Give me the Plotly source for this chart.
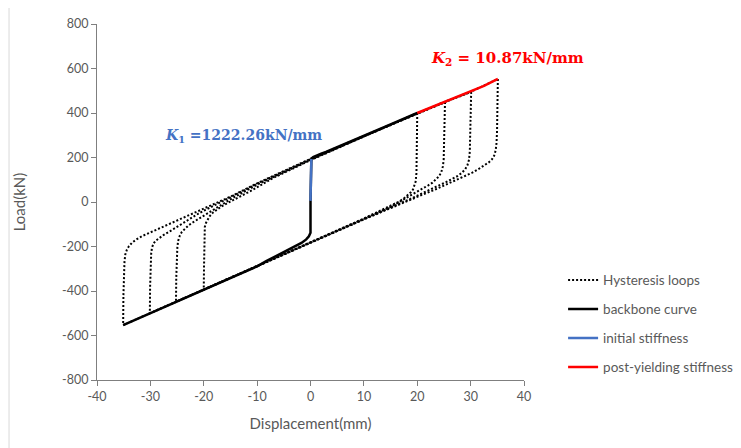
import plotly.graph_objects as go

# ---------------- data ----------------
# Hysteresis loop, amplitude 35 mm
loop35_x = [35.1, 35.05, 34.95, 34.85, 34.7, 34.4, 34.0, 33.4, 32.6, 31.6, 30.3, 28.8, 27.0, 25.0, 23.0, 21.0, 19.0, 15.0, 10.0, 0.0, -10.0, -20.0, -25.0, -30.0, -35.1,
            -35.05, -34.95, -34.85, -34.7, -34.4, -34.0, -33.4, -32.6, -31.6, -30.3, -28.8, -27.0, -25.0, -23.0, -21.0, -19.0, -15.0, -10.0, 0.0, 10.0, 20.0, 25.0, 30.0, 35.1]
loop35_y = [553, 420, 320, 265, 232, 208, 192, 178, 165, 150, 132, 115, 96, 74, 52, 33, 13, -27, -78, -183, -289, -395, -448, -500, -553,
            -420, -320, -268, -236, -214, -198, -182, -168, -154, -140, -124, -104, -83, -62, -41, -20, 24, 84, 194, 297, 400, 449, 495, 553]

# Hysteresis loop, amplitude 30 mm
loop30_x = [30.1, 30.05, 29.95, 29.85, 29.7, 29.4, 29.0, 28.4, 27.5, 26.5, 25.3, 24.0, 22.5, 21.0, 19.0, 15.0, 10.0, 0.0, -10.0, -20.0, -25.0, -30.1,
            -30.05, -29.95, -29.85, -29.7, -29.4, -29.0, -28.4, -27.5, -26.5, -25.3, -24.0, -22.5, -21.0, -19.0, -15.0, -10.0, 0.0, 10.0, 20.0, 25.0, 30.1]
loop30_y = [495, 380, 280, 228, 190, 165, 148, 132, 116, 102, 88, 74, 56, 38, 17, -25, -77, -183, -289, -395, -448, -500,
            -380, -285, -232, -205, -186, -174, -162, -148, -134, -116, -97, -75, -52, -27, 20, 82, 192, 296, 398, 447, 495]

# Hysteresis loop, amplitude 25 mm
loop25_x = [25.2, 25.15, 25.05, 24.95, 24.8, 24.5, 24.1, 23.5, 22.8, 22.0, 21.0, 20.0, 19.0, 17.5, 15.0, 10.0, 0.0, -10.0, -20.0, -25.2,
            -25.15, -25.05, -24.95, -24.8, -24.5, -24.1, -23.5, -22.8, -22.0, -21.0, -20.0, -19.0, -17.5, -15.0, -10.0, 0.0, 10.0, 20.0, 25.2]
loop25_y = [449, 340, 240, 190, 160, 134, 116, 100, 86, 74, 60, 46, 32, 12, -22, -76, -182, -288, -394, -448,
            -340, -250, -205, -175, -152, -134, -118, -104, -91, -76, -62, -46, -24, 12, 78, 190, 295, 398, 449]

# Hysteresis loop, amplitude 20 mm
loop20_x = [20.0, 19.95, 19.9, 19.85, 19.7, 19.5, 19.2, 18.8, 18.2, 17.5, 16.6, 15.5, 14.0, 10.0, 0.0, -10.0, -20.0,
            -19.95, -19.9, -19.85, -19.8, -19.6, -19.3, -18.9, -18.3, -17.6, -16.8, -15.8, -14.5, -13.0, -11.0, -9.0, -7.0, 0.0, 10.0, 20.0]
loop20_y = [400, 290, 190, 130, 92, 72, 56, 44, 30, 16, 2, -12, -28, -74, -180, -287, -394,
            -290, -200, -150, -112, -95, -80, -64, -48, -34, -22, -8, 8, 26, 52, 80, 108, 188, 294, 400]

# Backbone curve
backbone_x = [-35.1, -30.0, -25.0, -20.0, -15.0, -10.0, -8.3, -6.5, -5.2, -4.0, -2.7, -1.7, -0.8, -0.3, 0.0, 0.0,
              0.16, 0.2, 0.5, 1.1, 2.0, 2.9, 4.5, 7.3, 10.0, 15.0, 20.0]
backbone_y = [-553, -500, -448, -395, -342, -289, -266, -244, -228, -214, -198, -184, -168, -154, -138, 5,
              193, 196, 202, 209, 217, 225, 241, 270, 297, 349, 400]

# Initial stiffness K1
k1_x = [0.0, 0.16]
k1_y = [5, 193]

# Post-yielding stiffness K2
k2_x = [20.0, 22.5, 25.0, 27.5, 30.0, 32.5, 35.1]
k2_y = [400, 424, 449, 471, 495, 522, 553]

x_ticks = [-40, -30, -20, -10, 0, 10, 20, 30, 40]
x_labels = ["-40", "-30", "-20", "-10", "0", "10", "20", "30", "40"]
y_ticks = [-800, -600, -400, -200, 0, 200, 400, 600, 800]
y_labels = ["-800", "-600", "-400", "-200", "0", "200", "400", "600", "800"]

# ---------------- figure ----------------
hx, hy = [], []
for lx, ly in [(loop35_x, loop35_y), (loop30_x, loop30_y), (loop25_x, loop25_y), (loop20_x, loop20_y)]:
    hx += lx + [None]
    hy += ly + [None]

GRAY = "#595959"
fig = go.Figure()
fig.add_trace(go.Scatter(x=hx, y=hy, mode="lines", name="Hysteresis loops", legendgroup="a",
                         line=dict(color="black", width=2, dash="2px,2px")))
fig.add_trace(go.Scatter(x=backbone_x, y=backbone_y, mode="lines", name="backbone curve", legendgroup="b",
                         line=dict(color="black", width=2.5)))
fig.add_trace(go.Scatter(x=k1_x, y=k1_y, mode="lines", name="initial stiffness", legendgroup="c",
                         line=dict(color="#4472C4", width=2.5)))
fig.add_trace(go.Scatter(x=k2_x, y=k2_y, mode="lines", name="post-yielding stiffness", legendgroup="d",
                         line=dict(color="#FF0000", width=2.5)))

fig.add_annotation(x=-27.7, y=297, xref="x", yref="y", xanchor="left", yanchor="middle", showarrow=False,
                   text="<b><i>K</i><sub>1</sub> =1222.26kN/mm</b>",
                   font=dict(family="DejaVu Serif", size=14, color="#4472C4"))
fig.add_annotation(x=22.2, y=643, xref="x", yref="y", xanchor="left", yanchor="middle", showarrow=False,
                   text="<b><i>K</i><sub>2</sub> = 10.87kN/mm</b>",
                   font=dict(family="DejaVu Serif", size=15, color="#FF0000"))

# light outer chart border
fig.add_shape(type="rect", xref="paper", yref="paper", x0=-0.206, x1=1.6, y0=-0.3, y1=1.05,
              line=dict(color="#D9D9D9", width=1), fillcolor="rgba(0,0,0,0)", layer="below")

axis_common = dict(showgrid=False, zeroline=False, showline=True, linecolor="#7F7F7F", linewidth=1,
                   ticks="outside", ticklen=5, tickcolor="#7F7F7F", tickwidth=1,
                   tickfont=dict(family="Lato", size=12.5, color=GRAY), automargin=False)

fig.update_layout(
    width=741, height=448,
    margin=dict(l=89, r=224, t=16, b=76),
    paper_bgcolor="white", plot_bgcolor="white",
    showlegend=True,
    legend=dict(x=1.089, y=0.324, xanchor="left", yanchor="top", tracegroupgap=8.5,
                font=dict(family="Lato", size=13.5, color=GRAY), bgcolor="rgba(0,0,0,0)"),
    xaxis=dict(range=[-40, 40], tickvals=x_ticks, ticktext=x_labels,
               title=dict(text="Displacement(mm)", font=dict(family="Lato", size=15, color=GRAY), standoff=15),
               **axis_common),
    yaxis=dict(range=[-800, 800], tickvals=y_ticks, ticktext=y_labels,
               title=dict(text="Load(kN)", font=dict(family="Lato", size=15, color=GRAY), standoff=32),
               **axis_common),
)

fig.write_html("out.html")
